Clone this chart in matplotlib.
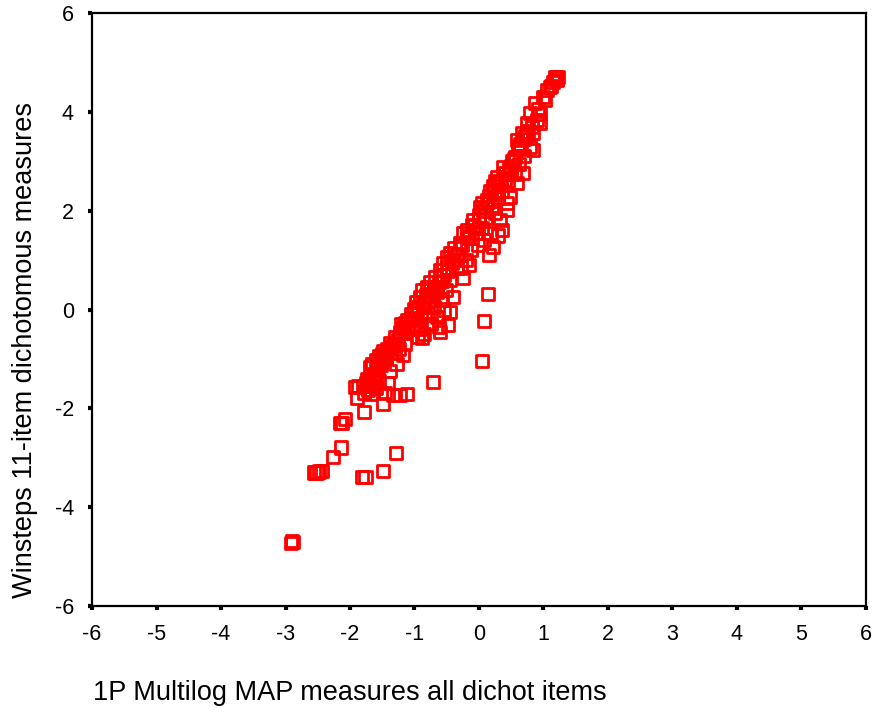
import matplotlib
matplotlib.use("Agg")
import matplotlib.pyplot as plt

plt.rcParams['font.family'] = ['Liberation Sans', 'DejaVu Sans']
plt.rcParams['axes.unicode_minus'] = False

# person measures: 1P Multilog MAP (x) vs Winsteps 11-item dichotomous (y)
multilog = [
    -2.92, -2.89, -2.90,
    -2.56, -2.52, -2.48, -2.43,
    -2.26, -2.14,
    -2.15, -2.12, -2.08,
    -1.81, -1.76, -1.49, -1.29,
    -1.78, -1.49, -1.33, -1.22, -1.12, -1.41, -0.71,
    -1.89, -1.92, -1.87,
    -1.80, -1.75, -1.72, -1.70, -1.67, -1.78, -1.65, -1.62, -1.74, -1.60, -1.68, -1.55, -1.46,
    0.05, 0.08, 0.14,
    -1.69, -1.65, -1.60, -1.55, -1.50, -1.58, -1.52, -1.45, -1.48, -1.42, -1.38, -1.35, -1.30,
    -1.38, -1.28, -1.18, -1.25, -1.15, -1.30, -1.22, -1.12, -1.18, -1.20, -1.15, -1.08,
    -0.95, -0.88, -0.85, -0.60, -0.48, -0.45, -0.40,
    -1.05, -1.00, -0.95, -0.98, -0.91, -0.88, -0.82, -0.85, -0.78, -0.80, -0.75, -0.70,
    -0.72, -0.65, -0.68, -0.60, -0.62, -0.56, -0.55, -0.50, -0.58, -0.52, -0.45, -0.90,
    -0.80, -0.75, -0.70, -0.65, -0.55, -0.62, -1.00, -0.92,
    -0.50, -0.45, -0.40, -0.38, -0.33, -0.30, -0.25, -0.25, -0.28, -0.20, -0.19, -0.15,
    -0.12, -0.10, -0.09, -0.05, 0.00, 0.02, -0.02, 0.05, 0.08, 0.10, 0.22, 0.15, 0.18,
    0.36, 0.30, -0.35, -0.15,
    0.05, 0.10, 0.12, 0.15, 0.18, 0.22, 0.25, 0.28, 0.30, 0.33, 0.35, 0.37, 0.40, 0.43,
    0.43, 0.48, 0.45, 0.50, 0.59, 0.55, 0.68, 0.62, 0.20, 0.25, 0.30,
    0.52, 0.56, 0.60, 0.59, 0.64, 0.67, 0.70, 0.74, 0.79, 0.84, 0.84, 0.79, 0.87, 0.90,
    0.95, 0.92, 0.99, 1.05, 1.10, 1.18, 1.22, 1.20, 1.15, 0.70, 0.75,
    # extra points filling the dense core of the band
    -1.62, -1.52, -1.44, -1.32, -1.26, -1.16, -1.10, -1.04, -0.96, -0.86, -0.76, -0.66,
    -0.58, -0.48, -0.42, -0.34, -0.26, -0.18, -0.08, 0.00, 0.06, 0.14, 0.24, 0.34,
    0.46, 0.54, 0.64, 0.72, 0.82, 0.94, 1.02, 1.12,
]
winsteps = [
    -4.72, -4.70, -4.68,
    -3.30, -3.30, -3.28, -3.27,
    -2.99, -2.79,
    -2.30, -2.29, -2.22,
    -3.39, -3.39, -3.27, -2.91,
    -2.08, -1.91, -1.73, -1.73, -1.71, -1.49, -1.47,
    -1.79, -1.57, -1.55,
    -1.55, -1.50, -1.62, -1.45, -1.55, -1.68, -1.40, -1.50, -1.40, -1.58, -1.70, -1.45, -1.69,
    -1.04, -0.23, 0.31,
    -1.17, -1.10, -1.02, -0.95, -0.90, -1.15, -1.05, -0.98, -0.85, -0.80, -0.68, -0.75, -0.88,
    -1.25, -1.10, -0.92, -0.80, -0.70, -0.55, -0.45, -0.21, -0.35, -0.30, -0.28, -0.40,
    -0.55, -0.58, -0.50, -0.46, -0.32, -0.05, 0.25,
    -0.10, 0.00, 0.05, 0.15, 0.25, 0.39, 0.30, 0.10, 0.20, 0.45, 0.55, 0.40,
    0.25, 0.35, 0.65, 0.80, 0.55, 0.94, 0.70, 0.85, 0.20, 0.40, 0.60, -0.20,
    -0.10, -0.30, 0.05, -0.15, 0.00, -0.35, -0.35, -0.40,
    1.05, 1.15, 1.00, 1.25, 1.10, 1.35, 1.55, 0.64, 0.85, 1.00, 1.61, 1.45,
    1.20, 1.70, 1.81, 1.55, 1.90, 2.07, 1.30, 1.65, 1.40, 1.85, 1.26, 1.10, 1.55,
    1.61, 1.50, 0.85, 0.90,
    2.15, 2.05, 2.21, 2.30, 2.40, 2.50, 2.60, 2.68, 2.55, 1.81, 2.40, 2.88, 2.75, 2.15,
    2.01, 2.28, 2.60, 2.90, 2.56, 2.75, 2.76, 2.95, 2.10, 1.95, 2.25,
    3.00, 3.09, 3.29, 3.43, 3.35, 3.57, 3.45, 3.77, 3.29, 3.23, 3.57, 3.98, 4.18, 3.83,
    3.77, 4.05, 4.30, 4.44, 4.50, 4.70, 4.70, 4.65, 4.60, 3.10, 3.60,
    -1.30, -1.12, -0.95, -0.72, -0.62, -0.48, -0.36, -0.18, -0.05, 0.12, 0.30, 0.45,
    0.58, 0.78, 0.95, 1.12, 1.30, 1.48, 1.68, 1.82, 2.00, 2.18, 2.38, 2.58,
    2.85, 3.05, 3.25, 3.50, 3.70, 3.95, 4.25, 4.52,
]

tick_values = [-6, -5, -4, -3, -2, -1, 0, 1, 2, 3, 4, 5, 6]
y_tick_values = [-6, -4, -2, 0, 2, 4, 6]

fig = plt.figure(figsize=(8.73, 7.17), dpi=100)
ax = fig.add_axes([92 / 873, 1 - 606 / 717, 774 / 873, 593 / 717])

ax.scatter(multilog, winsteps, marker='s', s=78, facecolors='none',
           edgecolors='#ff0000', linewidths=2.0, zorder=3)

ax.set_xlim(-6, 6)
ax.set_ylim(-6, 6)
ax.set_xticks(tick_values)
ax.set_yticks(y_tick_values)

for side in ax.spines.values():
    side.set_linewidth(1.6)
    side.set_color('black')

ax.tick_params(direction='out', length=3, width=3, labelsize=15.5, pad=10)

fig.text(93 / 873, 1 - 693 / 717, '1P Multilog MAP measures all dichot items',
         ha='left', va='center', fontsize=19.5)
fig.text(25 / 873, 1 - 350 / 717, 'Winsteps 11-item dichotomous measures',
         ha='center', va='center', rotation=90, fontsize=19.5)

fig.savefig('out.png', dpi=100)
